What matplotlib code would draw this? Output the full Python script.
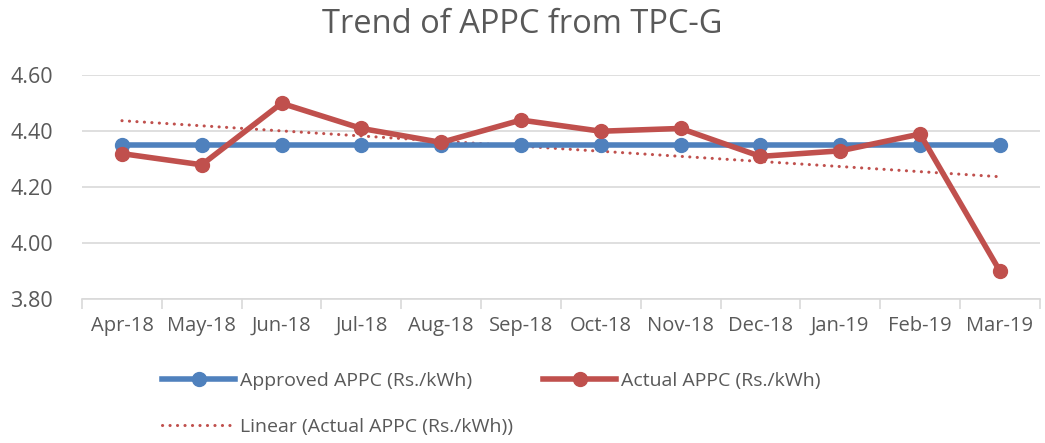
import matplotlib
matplotlib.use("Agg")
import matplotlib.pyplot as plt
import numpy as np

months = ["Apr-18", "May-18", "Jun-18", "Jul-18", "Aug-18", "Sep-18",
          "Oct-18", "Nov-18", "Dec-18", "Jan-19", "Feb-19", "Mar-19"]
approved = [4.35] * 12
actual = [4.32, 4.28, 4.50, 4.41, 4.36, 4.44, 4.40, 4.41, 4.31, 4.33, 4.39, 3.90]
yticks = [3.80, 4.00, 4.20, 4.40, 4.60]

plt.rcParams['font.family'] = ['Open Sans', 'DejaVu Sans']
txt = '#595959'
grid = '#d9d9d9'
blue = '#4F81BD'
red = '#C0504D'

fig = plt.figure(figsize=(10.45, 4.43), dpi=100)
ax = fig.add_axes([0.0785, 0.325, 0.9165, 0.505])

x = np.arange(len(months))
l1, = ax.plot(x, approved, color=blue, lw=4, marker='o', ms=10, label='Approved APPC (Rs./kWh)', zorder=3)
l2, = ax.plot(x, actual, color=red, lw=4, marker='o', ms=10, label='Actual APPC (Rs./kWh)', zorder=4)
coef = np.polyfit(x, actual, 1)
l3, = ax.plot(x, np.polyval(coef, x), color=red, lw=2.2, ls=(0, (0.05, 2.4)), dash_capstyle='round',
              label='Linear (Actual APPC (Rs./kWh))', zorder=2)

ax.set_xlim(-0.5, len(months) - 0.5)
ax.set_ylim(3.80, 4.60)
ax.set_yticks(yticks)
ax.set_yticklabels([f"{v:.2f}" for v in yticks])
ax.yaxis.grid(True, color=grid, lw=1.2)
ax.set_axisbelow(True)
ax.set_xticks(x)
ax.set_xticklabels(months)
ax.set_xticks(np.arange(-0.5, len(months)), minor=True)
ax.tick_params(axis='x', which='major', length=0, pad=12, labelsize=14.5, colors=txt)
ax.tick_params(axis='x', which='minor', length=7, color=grid, width=1.2)
ax.tick_params(axis='y', length=0, pad=21, labelsize=15.5, colors=txt)
for s in ['top', 'right', 'left']:
    ax.spines[s].set_visible(False)
ax.spines['bottom'].set_color(grid)
ax.spines['bottom'].set_linewidth(1.2)

fig.text(0.5, 0.945, "Trend of APPC from TPC-G", ha='center', va='center', fontsize=23.5, color=txt)

leg = fig.legend(handles=[l1, l3, l2], ncol=2, loc='upper left', bbox_to_anchor=(0.148, 0.178),
                 frameon=False, fontsize=14, handlelength=3.75, handletextpad=0.25,
                 columnspacing=1.55, labelspacing=1.45, borderaxespad=0)
for t in leg.get_texts():
    t.set_color(txt)

fig.savefig("out.png", dpi=100)
